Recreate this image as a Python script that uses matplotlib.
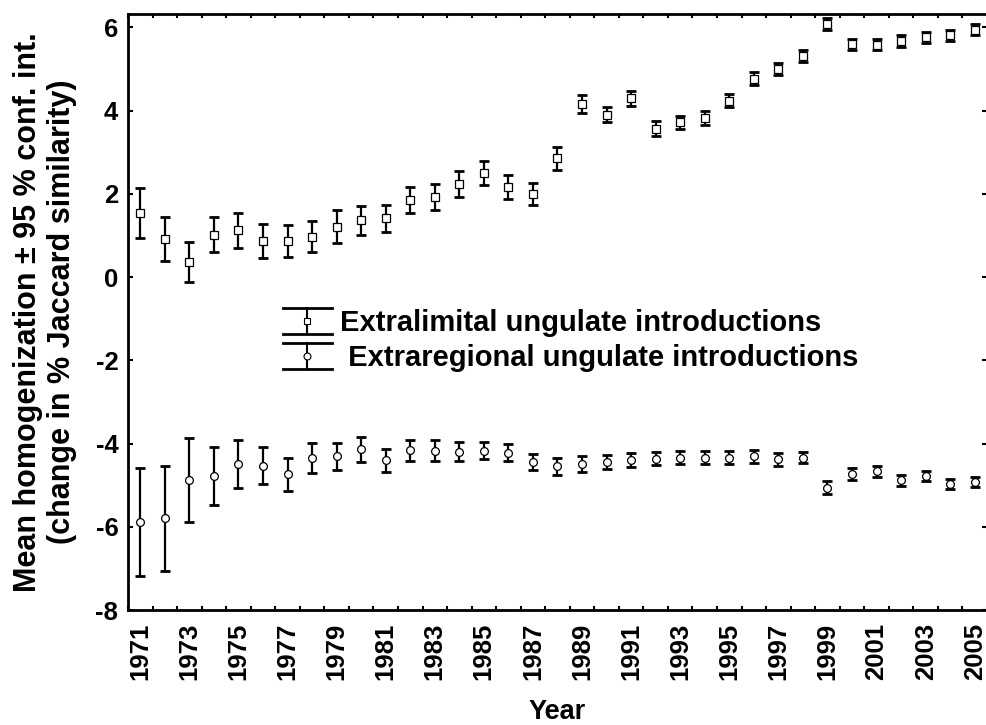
import numpy as np
import matplotlib
matplotlib.use("Agg")
import matplotlib.pyplot as plt
from matplotlib.lines import Line2D
from matplotlib.legend_handler import HandlerBase

plt.rcParams['font.family'] = ['Liberation Sans', 'DejaVu Sans']
plt.rcParams['font.weight'] = 'bold'
plt.rcParams['axes.unicode_minus'] = False

# data
years = list(range(1971, 2006))

extralimital_mean = [1.55, 0.92, 0.35, 1.02, 1.12, 0.86, 0.87, 0.97, 1.21, 1.36,
                     1.41, 1.85, 1.93, 2.23, 2.51, 2.17, 1.99, 2.85, 4.15, 3.90,
                     4.29, 3.56, 3.72, 3.82, 4.24, 4.77, 5.00, 5.31, 6.08, 5.59,
                     5.58, 5.67, 5.76, 5.81, 5.94]
extralimital_ci = [0.60, 0.53, 0.48, 0.42, 0.42, 0.41, 0.38, 0.37, 0.39, 0.34,
                   0.32, 0.31, 0.31, 0.31, 0.29, 0.29, 0.27, 0.27, 0.22, 0.18,
                   0.19, 0.18, 0.16, 0.16, 0.15, 0.16, 0.15, 0.15, 0.15, 0.14,
                   0.13, 0.14, 0.13, 0.13, 0.13]

extraregional_mean = [-5.88, -5.80, -4.87, -4.78, -4.49, -4.53, -4.74, -4.34, -4.31, -4.14,
                      -4.40, -4.16, -4.17, -4.20, -4.17, -4.22, -4.44, -4.55, -4.49, -4.44,
                      -4.40, -4.36, -4.34, -4.34, -4.34, -4.31, -4.38, -4.34, -5.06, -4.73,
                      -4.67, -4.88, -4.78, -4.98, -4.93]
extraregional_ci = [1.30, 1.26, 1.01, 0.70, 0.57, 0.45, 0.40, 0.36, 0.32, 0.30,
                    0.28, 0.25, 0.25, 0.23, 0.21, 0.21, 0.20, 0.20, 0.19, 0.17,
                    0.17, 0.16, 0.16, 0.15, 0.15, 0.15, 0.15, 0.14, 0.15, 0.14,
                    0.13, 0.13, 0.13, 0.12, 0.12]

labels = ["Extralimital ungulate introductions", " Extraregional ungulate introductions"]


class HandlerCI(HandlerBase):
    """Legend entry drawn as a wide error bar with a small marker."""
    def create_artists(self, legend, orig_handle, xdescent, ydescent,
                       width, height, fontsize, trans):
        x0, x1 = -xdescent, width - xdescent
        y0, y1 = -ydescent, height - ydescent
        xm, ym = (x0 + x1) / 2, (y0 + y1) / 2
        caps = Line2D([x0, x1, np.nan, x0, x1], [y0, y0, np.nan, y1, y1],
                      color='black', lw=2, transform=trans)
        bar = Line2D([xm, xm], [y0, y1], color='black', lw=1.5, transform=trans)
        mark = Line2D([xm], [ym], marker=orig_handle.get_marker(), ms=5,
                      mfc='white', mec='black', mew=0.8, ls='none', transform=trans)
        return [caps, bar, mark]


fig = plt.figure(figsize=(9.87, 7.25), dpi=100)
ax = fig.add_axes([128 / 987, 115 / 725, 859 / 987, 596 / 725])

x = np.arange(len(years))
handles = []
for mean, ci, m in [(extralimital_mean, extralimital_ci, 's'),
                    (extraregional_mean, extraregional_ci, 'o')]:
    ax.errorbar(x, mean, yerr=ci, fmt='none', ecolor='black', elinewidth=1.6,
                capsize=3.6, capthick=2, zorder=2)
    ms = 5.8 if m == 's' else 5.6
    h, = ax.plot(x, mean, ls='none', marker=m, ms=ms, mfc='white', mec='black',
                 mew=0.9, zorder=3)
    handles.append(h)

ax.set_xlim(-0.5, len(years) - 0.5)
ax.set_ylim(-8, 6.32)

# labels at category centres, ticks at category boundaries
ax.set_xticks(x)
ax.set_xticklabels([str(y) if (y - 1971) % 2 == 0 else '' for y in years],
                   rotation=90, fontsize=18.5)
ax.set_xticks(np.arange(len(years) + 1) - 0.5, minor=True)
ax.tick_params(axis='x', which='major', length=0, pad=9)
ax.tick_params(axis='x', which='minor', direction='in', length=3, width=1.5,
               top=True, bottom=True)

ax.set_yticks(np.arange(-8, 7, 2))
ax.tick_params(axis='y', which='major', direction='in', length=3.5, width=1.5,
               left=True, right=True, labelsize=18.5, pad=7)

for s in ax.spines.values():
    s.set_linewidth(2)

ax.set_xlabel("Year", fontsize=19.5, fontweight='bold', va='center')
ax.xaxis.set_label_coords(0.5, -0.171)
ax.set_ylabel("Mean homogenization \u00b1 95 % conf. int.\n(change in % Jaccard similarity)",
              fontsize=22, fontweight='bold', va='center', linespacing=1.2)
ax.yaxis.set_label_coords(-0.0966, 0.5)

ax.legend(handles=handles, labels=labels, handler_map={Line2D: HandlerCI()},
          frameon=False, loc='center left', bbox_to_anchor=(0.180, 0.453),
          borderpad=0, borderaxespad=0, handlelength=1.7, handleheight=1.0,
          handletextpad=0.27, labelspacing=0.22,
          prop={'size': 21, 'weight': 'bold'})

fig.savefig("out.png", dpi=100)
